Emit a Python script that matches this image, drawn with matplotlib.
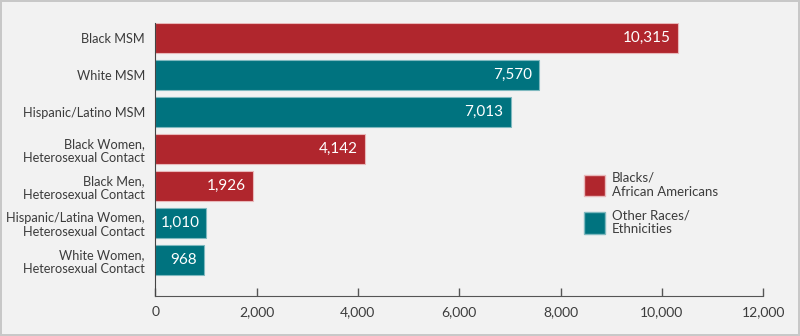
import matplotlib.pyplot as plt
from matplotlib.patches import Patch
from matplotlib.transforms import offset_copy

categories = ["Black MSM", "White MSM", "Hispanic/Latino MSM",
              "Black Women,\nHeterosexual Contact",
              "Black Men,\nHeterosexual Contact",
              "Hispanic/Latina Women,\nHeterosexual Contact",
              "White Women,\nHeterosexual Contact"]
values = [10315, 7570, 7013, 4142, 1926, 1010, 968]
is_black = [True, False, False, True, True, False, False]
xticks = [0, 2000, 4000, 6000, 8000, 10000, 12000]

red = "#b0262d"
teal = "#00737f"
txt = "#3c3c3c"
bg = "#f2f2f2"

plt.rcParams['font.family'] = ['Lato', 'DejaVu Sans']

fig = plt.figure(figsize=(8, 3.36), dpi=100, facecolor=bg,
                 edgecolor="#c8c8c8", linewidth=1.5)
ax = fig.add_axes([0.194, 0.119, 0.76, 0.812])
ax.set_facecolor(bg)

cols = [red if b else teal for b in is_black]
edges = ["#e8b8ba" if b else "#7fb9bf" for b in is_black]
ypos = list(range(len(values)))
ax.barh(ypos, values, height=0.81, color=cols, edgecolor=edges, linewidth=0.8)

lab_tr = offset_copy(ax.transData, fig=fig, x=-5, y=0, units='points')
for y, v in zip(ypos, values):
    ax.text(v, y, f"{v:,}", transform=lab_tr, ha='right', va='center',
            color='white', fontsize=11)

ax.set_ylim(6.97, -0.41)
ax.set_xlim(0, 12000)
ax.set_yticks(ypos)
ax.set_yticklabels(categories, fontsize=9.2, color=txt, linespacing=1.15)
ax.set_xticks(xticks)
ax.set_xticklabels([f"{t:,}" for t in xticks], fontsize=10, color=txt)
ax.tick_params(axis='y', length=0, pad=7.5)
ax.tick_params(axis='x', direction='in', length=6, width=1, color="#555555", pad=7)

for s in ['top', 'right']:
    ax.spines[s].set_visible(False)
ax.spines['left'].set_color("#444444")
ax.spines['bottom'].set_color("#555555")

handles = [Patch(facecolor=red, edgecolor="#e8b8ba"),
           Patch(facecolor=teal, edgecolor="#7fb9bf")]
leg = fig.legend(handles, ["Blacks/\nAfrican Americans", "Other Races/\nEthnicities"],
                 loc='upper left', bbox_to_anchor=(584 / 800, 1 - 172 / 336),
                 frameon=False, fontsize=9.5, handlelength=1.6, handleheight=2.1,
                 handletextpad=0.5, labelspacing=0.9, borderpad=0, borderaxespad=0)
for t in leg.get_texts():
    t.set_color(txt)
    t.set_linespacing(1.15)

fig.savefig("out.png", dpi=100, facecolor=bg, edgecolor="#c8c8c8")
